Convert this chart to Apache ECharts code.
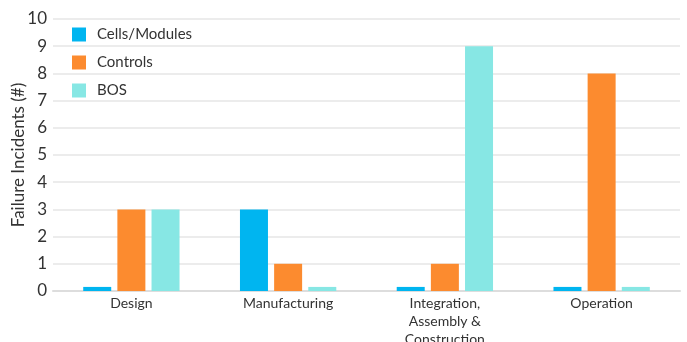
<!DOCTYPE html>
<html><head><meta charset="utf-8">
<script src="https://cdn.jsdelivr.net/npm/echarts@6/dist/echarts.min.js"></script>
<style>html,body{margin:0;padding:0;background:#fff}#c{width:687px;height:342px}</style>
</head><body><div id="c"></div>
<script>
const categories = ["Design", "Manufacturing", "Integration,\nAssembly &\nConstruction", "Operation"];
const cellsModules = [0.15, 3, 0.15, 0.15];
const controls = [3, 1, 1, 8];
const bos = [3, 0.15, 9, 0.15];
const yTicks = {min: 0, max: 10, interval: 1};

const font = "Lato, 'Open Sans', sans-serif";
const chart = echarts.init(document.getElementById('c'));
chart.setOption({
  animation: false,
  textStyle: {fontFamily: font},
  grid: {left: 53, right: 7, top: 19, bottom: 51, containLabel: false, outerBoundsMode: 'none'},
  legend: {
    orient: 'vertical', left: 67, top: 22, itemWidth: 14, itemHeight: 14, itemGap: 13,
    icon: 'rect',
    textStyle: {fontSize: 15, color: '#333', fontFamily: font, padding: [0, 0, 0, 6]},
    data: ['Cells/Modules', 'Controls', 'BOS']
  },
  xAxis: {
    type: 'category', data: categories,
    axisLine: {lineStyle: {color: '#ddd', width: 2}},
    axisTick: {show: false},
    axisLabel: {fontSize: 14, color: '#333', margin: 3, lineHeight: 18, fontFamily: font}
  },
  yAxis: {
    type: 'value', min: yTicks.min, max: yTicks.max, interval: yTicks.interval,
    name: 'Failure Incidents (#)', nameLocation: 'middle', nameGap: 26, nameMoveOverlap: false,
    nameTextStyle: {fontSize: 17, color: '#333', fontFamily: font},
    axisLine: {show: false}, axisTick: {show: false},
    axisLabel: {fontSize: 17, color: '#333', margin: 6, fontFamily: font},
    splitLine: {lineStyle: {color: '#e6e6e6', width: 1.5}}
  },
  series: [
    {name: 'Cells/Modules', type: 'bar', data: cellsModules, itemStyle: {color: '#00b5f0'}, barWidth: 28, barGap: '22%'},
    {name: 'Controls', type: 'bar', data: controls, itemStyle: {color: '#fc8b2f'}, barWidth: 28, barGap: '22%'},
    {name: 'BOS', type: 'bar', data: bos, itemStyle: {color: '#87e7e4'}, barWidth: 28, barGap: '22%'}
  ]
});
</script></body></html>
